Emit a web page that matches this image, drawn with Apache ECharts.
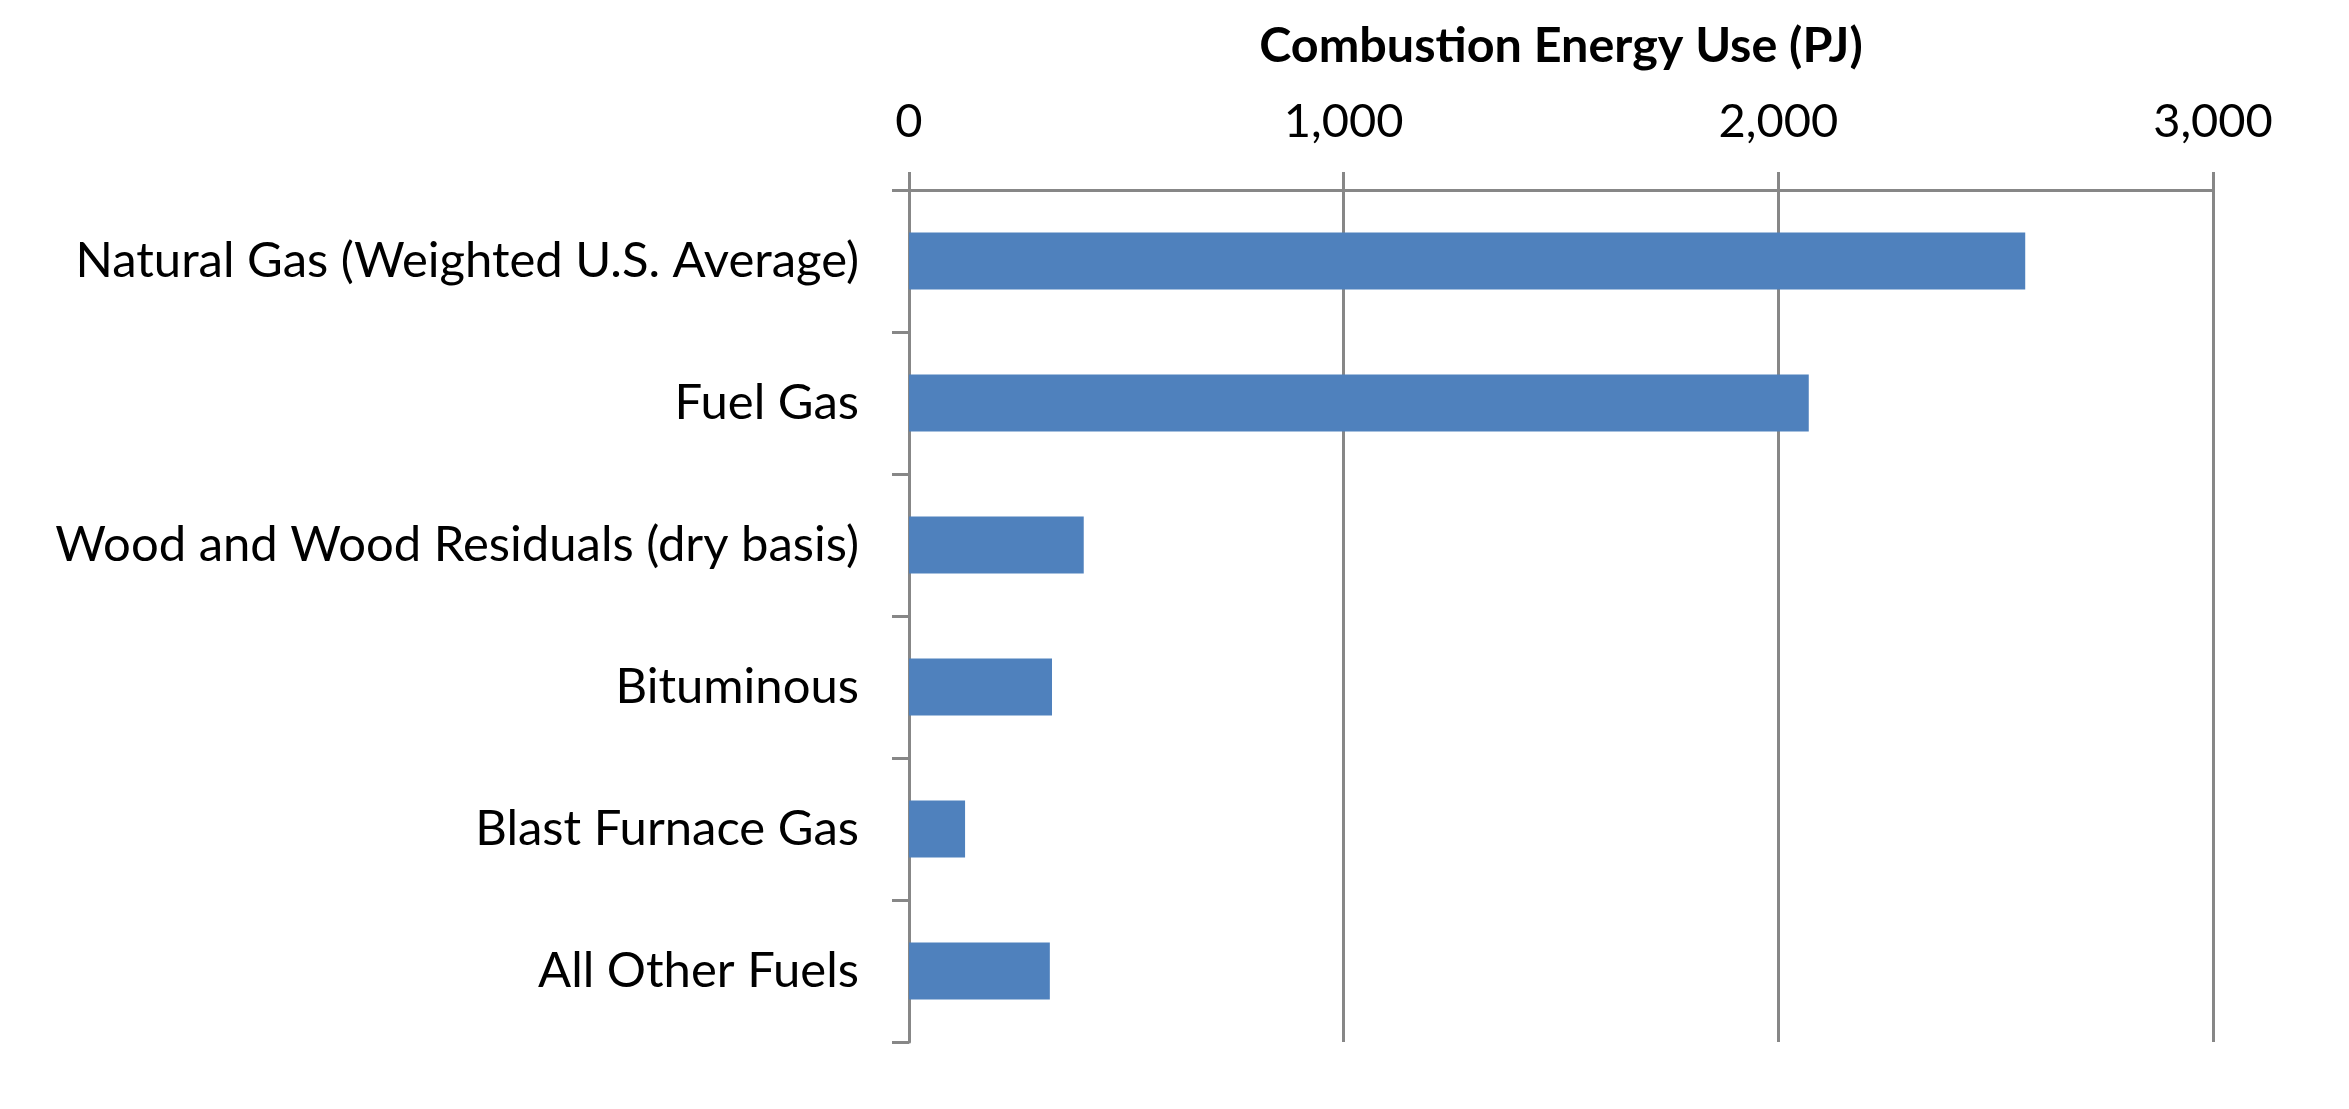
<!DOCTYPE html>
<html>
<head>
<meta charset="utf-8">
<script src="https://cdn.jsdelivr.net/npm/echarts@6/dist/echarts.min.js"></script>
<style>
html,body{margin:0;padding:0;background:#fff;}
#chart{width:2349px;height:1109px;}
</style>
</head>
<body>
<div id="chart"></div>
<script>
const categories = [
  "Natural Gas (Weighted U.S. Average)",
  "Fuel Gas",
  "Wood and Wood Residuals (dry basis)",
  "Bituminous",
  "Blast Furnace Gas",
  "All Other Fuels"
];
const values = [2568, 2070, 402, 329, 129, 324];
const axisTitle = "Combustion Energy Use (PJ)";

const FONT = "Lato, 'Open Sans', sans-serif";
const GRAY = "#878787";

const chart = echarts.init(document.getElementById('chart'));
chart.setOption({
  animation: false,
  backgroundColor: '#ffffff',
  grid: { left: 909, right: 136, top: 190, bottom: 67, containLabel: false },
  xAxis: {
    type: 'value',
    position: 'top',
    min: 0, max: 3000, interval: 1000,
    name: axisTitle,
    nameLocation: 'middle',
    nameGap: 119,
    nameTextStyle: { fontFamily: FONT, fontSize: 48.5, fontWeight: 'bold', color: '#000' },
    axisLine: { show: true, lineStyle: { color: GRAY, width: 3 } },
    axisTick: { show: true, length: 18, lineStyle: { color: GRAY, width: 3 } },
    axisLabel: {
      fontFamily: FONT, fontSize: 47, color: '#000', margin: 45,
      formatter: v => v.toLocaleString('en-US')
    },
    splitLine: { show: true, lineStyle: { color: GRAY, width: 3 } }
  },
  yAxis: {
    type: 'category',
    data: categories,
    inverse: true,
    axisLine: { show: true, lineStyle: { color: GRAY, width: 3 } },
    axisTick: { show: true, length: 17, lineStyle: { color: GRAY, width: 3 } },
    axisLabel: { fontFamily: FONT, fontSize: 49, color: '#000', margin: 50 },
    splitLine: { show: false }
  },
  series: [{
    type: 'bar',
    data: values,
    barCategoryGap: '60%',
    itemStyle: { color: '#4F81BD' }
  }]
});
</script>
</body>
</html>
